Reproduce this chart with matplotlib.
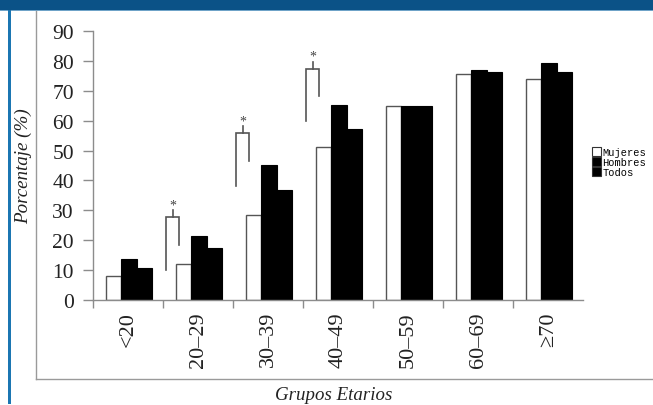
import matplotlib
matplotlib.use('Agg')
import matplotlib.pyplot as plt
from matplotlib.patches import Patch, Rectangle
from matplotlib.lines import Line2D
import numpy as np


Grupos    = ['<20', '20–29', '30–39', '40–49', '50–59', '60–69', '≥70']
Mujeres   = [8.1, 12.0, 28.4, 51.1, 64.8, 75.7, 74.1]
Hombres   = [13.7, 21.3, 45.2, 65.3, 64.8, 77.0, 79.3]
Todos     = [10.6, 17.3, 36.8, 57.1, 64.8, 76.4, 76.2]

# significance brackets: group index, top, left leg bottom, right leg bottom
SigGroup  = [1, 2, 3]
SigTop    = [27.7, 55.8, 77.3]
SigLeft   = [10.1, 38.2, 60.0]
SigRight  = [18.5, 46.4, 68.1]

serif = 'Liberation Serif'
gray  = '#8c8c8c'

fig = plt.figure(figsize=(6.53, 4.06), dpi=100)
W, H = 653.0, 406.0

# page decoration: banner, left border, frame
fig.patches.append(Rectangle((0, 1 - 11/H), 1, 11/H, transform=fig.transFigure,
                             facecolor='#0b5287', edgecolor='none', zorder=0))
fig.patches.append(Rectangle((0, 1 - 12/H), 1, 1/H, transform=fig.transFigure,
                             facecolor='#6fa3c8', edgecolor='none', zorder=0))
fig.patches.append(Rectangle((8/W, 1 - 405/H), 3/W, 394/H, transform=fig.transFigure,
                             facecolor='#1b76b2', edgecolor='none', zorder=0))
fig.lines.append(Line2D([36/W, 36/W], [1 - 12/H, 1 - 380/H], transform=fig.transFigure,
                        color='#9a9a9a', lw=1.0))
fig.lines.append(Line2D([36/W, 1], [1 - 380/H, 1 - 380/H], transform=fig.transFigure,
                        color='#9a9a9a', lw=1.0))

ax = fig.add_axes([93.3/W, 1 - 301/H, 490/W, 269/H])

x  = np.arange(len(Grupos))
bw = 0.219
ax.bar(x + 0.29,  Mujeres, bw, color='white', edgecolor='#555555', linewidth=1.0, label='Mujeres')
ax.bar(x + 0.509, Hombres, bw, color='black', edgecolor='black', linewidth=0.8, label='Hombres')
ax.bar(x + 0.728, Todos,   bw, color='black', edgecolor='black', linewidth=0.8, label='Todos')

for g, top, lb, rb in zip(SigGroup, SigTop, SigLeft, SigRight):
    xl, xr = g + 0.04, g + 0.226
    xm = (xl + xr) / 2
    ax.plot([xl, xl, xr, xr], [lb, top, top, rb], color='#555555', lw=1.2, solid_joinstyle='miter')
    ax.plot([xm, xm], [top, top + 2.4], color='#555555', lw=1.2)
    ax.text(xm, top + 2.0, '*', ha='center', va='bottom', fontsize=10, color='#444444', family=serif)

ax.set_xlim(0, len(Grupos))
ax.set_ylim(0, 90)

for s in ['top', 'right']:
    ax.spines[s].set_visible(False)
for s in ['left', 'bottom']:
    ax.spines[s].set_color(gray)
    ax.spines[s].set_linewidth(1.0)

ax.set_yticks(np.arange(0, 91, 10))
ax.set_yticklabels([str(v) for v in range(0, 91, 10)], family=serif, fontsize=15.5, color='#222222')
ax.tick_params(axis='y', direction='out', length=7, width=1.0, color=gray, pad=7)

ax.set_xticks(x)
ax.set_xticklabels([])
ax.set_xticks(x + 0.5, minor=True)
ax.set_xticklabels(Grupos, minor=True, rotation=90, va='top', ha='center',
                   family=serif, fontsize=16, color='#222222')
ax.tick_params(axis='x', which='major', direction='out', length=6, width=1.0, color=gray)
ax.tick_params(axis='x', which='minor', length=0, pad=8)

fig.text(23/W, 1 - 166/H, 'Porcentaje (%)', rotation=90, ha='center', va='center',
         family=serif, style='italic', fontsize=13.7, color='#222222')
fig.text(334/W, 1 - 396/H, 'Grupos Etarios', ha='center', va='center',
         family=serif, style='italic', fontsize=13.6, color='#222222')

handles = [Patch(facecolor='white', edgecolor='#333333', linewidth=0.8),
           Patch(facecolor='black', edgecolor='#333333', linewidth=0.8),
           Patch(facecolor='black', edgecolor='#333333', linewidth=0.8)]
fig.legend(handles, ['Mujeres', 'Hombres', 'Todos'], loc='upper left',
           bbox_to_anchor=(592/W, 1 - 148/H), frameon=False,
           prop={'family': 'Liberation Mono', 'size': 7.5},
           handlelength=0.9, handleheight=0.9, handletextpad=0.1,
           labelspacing=0.0, borderpad=0, borderaxespad=0)

fig.savefig('out.png', dpi=100)
